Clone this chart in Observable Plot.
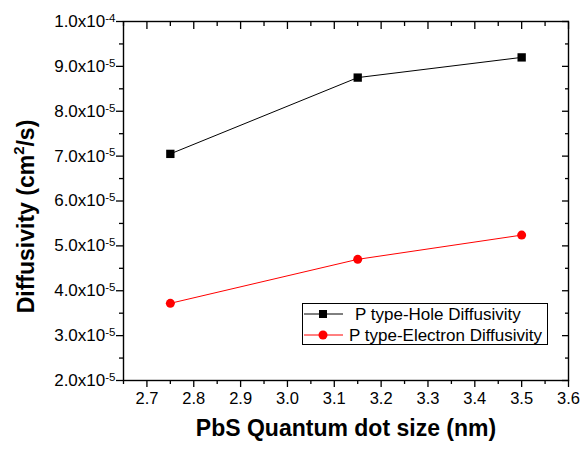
<!DOCTYPE html>
<html>
<head>
<meta charset="utf-8">
<script src="https://cdn.jsdelivr.net/npm/d3@7"></script>
<script src="https://cdn.jsdelivr.net/npm/@observablehq/plot@0.6"></script>
<style>
  html, body { margin: 0; padding: 0; background: #fff; }
  #chart { width: 582px; height: 449px; }
</style>
</head>
<body>
<div id="chart"></div>
<script>
// ---- data ----
const dotSizes = [2.75, 3.15, 3.5];
const holeDiffusivity = [7.05e-5, 8.75e-5, 9.2e-5];
const electronDiffusivity = [3.72e-5, 4.70e-5, 5.24e-5];
const seriesNames = ["P type-Hole Diffusivity", "P type-Electron Diffusivity"];
const seriesColors = ["#000000", "#ff0000"];

const xTicks = [2.7, 2.8, 2.9, 3.0, 3.1, 3.2, 3.3, 3.4, 3.5, 3.6];
const xMinorTicks = [2.65, 2.75, 2.85, 2.95, 3.05, 3.15, 3.25, 3.35, 3.45, 3.55];
const yTicks = [2e-5, 3e-5, 4e-5, 5e-5, 6e-5, 7e-5, 8e-5, 9e-5, 1e-4];
const yMinorTicks = [2.5e-5, 3.5e-5, 4.5e-5, 5.5e-5, 6.5e-5, 7.5e-5, 8.5e-5, 9.5e-5];

const xTitle = "PbS Quantum dot size (nm)";
const yTitle = "Diffusivity (cm^2^/s)";

const hole = dotSizes.map((x, i) => ({x, y: holeDiffusivity[i]}));
const electron = dotSizes.map((x, i) => ({x, y: electronDiffusivity[i]}));

function sciFormat(d) {
  const e = Math.floor(Math.log10(d) + 1e-9);
  const m = d / Math.pow(10, e);
  return `${m.toFixed(1)}x10^${e}`;
}
const blank = () => "";

const chart = Plot.plot({
  width: 582,
  height: 449,
  marginLeft: 123,
  marginRight: 14,
  marginTop: 21,
  marginBottom: 69,
  style: {fontFamily: "'Liberation Sans', Arial, sans-serif", color: "#000", background: "#fff", overflow: "visible"},
  x: {domain: [2.65, 3.6]},
  y: {domain: [2e-5, 1e-4]},
  marks: [
    Plot.frame({stroke: "#000", strokeWidth: 1.4}),
    Plot.axisX({ticks: xTicks, tickSize: 7, tickPadding: 5, fontSize: 16.5, tickFormat: d => d.toFixed(1), label: null, strokeWidth: 1.3}),
    Plot.axisX({ticks: xMinorTicks, tickSize: 4, tickFormat: blank, label: null, strokeWidth: 1.3}),
    Plot.axisX({anchor: "top", ticks: xTicks, tickSize: -7, tickFormat: blank, label: null, strokeWidth: 1.3}),
    Plot.axisX({anchor: "top", ticks: xMinorTicks, tickSize: -4, tickFormat: blank, label: null, strokeWidth: 1.3}),
    Plot.axisY({ticks: yTicks, tickSize: 7, tickPadding: 1, fontSize: 17, tickFormat: sciFormat, label: null, strokeWidth: 1.3}),
    Plot.axisY({ticks: yMinorTicks, tickSize: 4, tickFormat: blank, label: null, strokeWidth: 1.3}),
    Plot.axisY({anchor: "right", ticks: yTicks, tickSize: -7, tickFormat: blank, label: null, strokeWidth: 1.3}),
    Plot.axisY({anchor: "right", ticks: yMinorTicks, tickSize: -4, tickFormat: blank, label: null, strokeWidth: 1.3}),
    Plot.line(hole, {x: "x", y: "y", stroke: seriesColors[0], strokeWidth: 1}),
    Plot.line(electron, {x: "x", y: "y", stroke: seriesColors[1], strokeWidth: 1}),
    Plot.dot(hole, {x: "x", y: "y", symbol: "square", r: 4.7, fill: seriesColors[0], stroke: "none"}),
    Plot.dot(electron, {x: "x", y: "y", symbol: "circle", r: 4.5, fill: seriesColors[1], stroke: "none"}),
    Plot.text([xTitle], {text: d => d, frameAnchor: "bottom", dy: 55, fontSize: 23, fontWeight: "bold"}),
    Plot.text([yTitle], {text: d => d, frameAnchor: "left", textAnchor: "middle", dx: -97, dy: 15.5, rotate: -90, fontSize: 23, fontWeight: "bold"})
  ]
});

document.getElementById("chart").appendChild(chart);
const svg = d3.select(chart);

// superscripts on y tick labels
svg.selectAll('g[aria-label="y-axis tick label"] text').each(function() {
  const t = this.textContent;
  if (!t.includes("^")) return;
  const [base, exp] = t.split("^");
  this.textContent = base;
  d3.select(this).append("tspan").attr("dy", "-0.45em").attr("font-size", "0.68em").text(exp);
});

// superscript in y title
svg.selectAll("text").each(function() {
  const parts = this.textContent.split("^");
  if (parts.length !== 3) return;
  this.textContent = parts[0];
  const sel = d3.select(this);
  sel.append("tspan").attr("dy", "-10").attr("font-size", "15").text(parts[1]);
  sel.append("tspan").attr("dy", "10").text(parts[2]);
});

// legend
const lg = svg.append("g").attr("aria-label", "legend").attr("text-anchor", "start");
lg.append("rect").attr("x", 302.5).attr("y", 303.5).attr("width", 245).attr("height", 41)
  .attr("fill", "#fff").attr("stroke", "#000").attr("stroke-width", 1);
const rows = [
  {y: 314, tx: 355, ty: 320, symbol: "square"},
  {y: 335, tx: 349, ty: 341, symbol: "circle"}
];
rows.forEach((r, i) => {
  lg.append("line").attr("x1", 304).attr("x2", 343).attr("y1", r.y).attr("y2", r.y)
    .attr("stroke", seriesColors[i]).attr("stroke-width", 1);
  if (r.symbol === "square") {
    lg.append("rect").attr("x", 323 - 4).attr("y", r.y - 4).attr("width", 8).attr("height", 8).attr("fill", seriesColors[i]);
  } else {
    lg.append("circle").attr("cx", 323).attr("cy", r.y).attr("r", 4.5).attr("fill", seriesColors[i]);
  }
  lg.append("text").attr("x", r.tx).attr("y", r.ty).attr("font-size", 17).attr("text-anchor", "start")
    .attr("font-family", "'Liberation Sans', Arial, sans-serif").attr("fill", "#000").text(seriesNames[i]);
});
</script>
</body>
</html>
